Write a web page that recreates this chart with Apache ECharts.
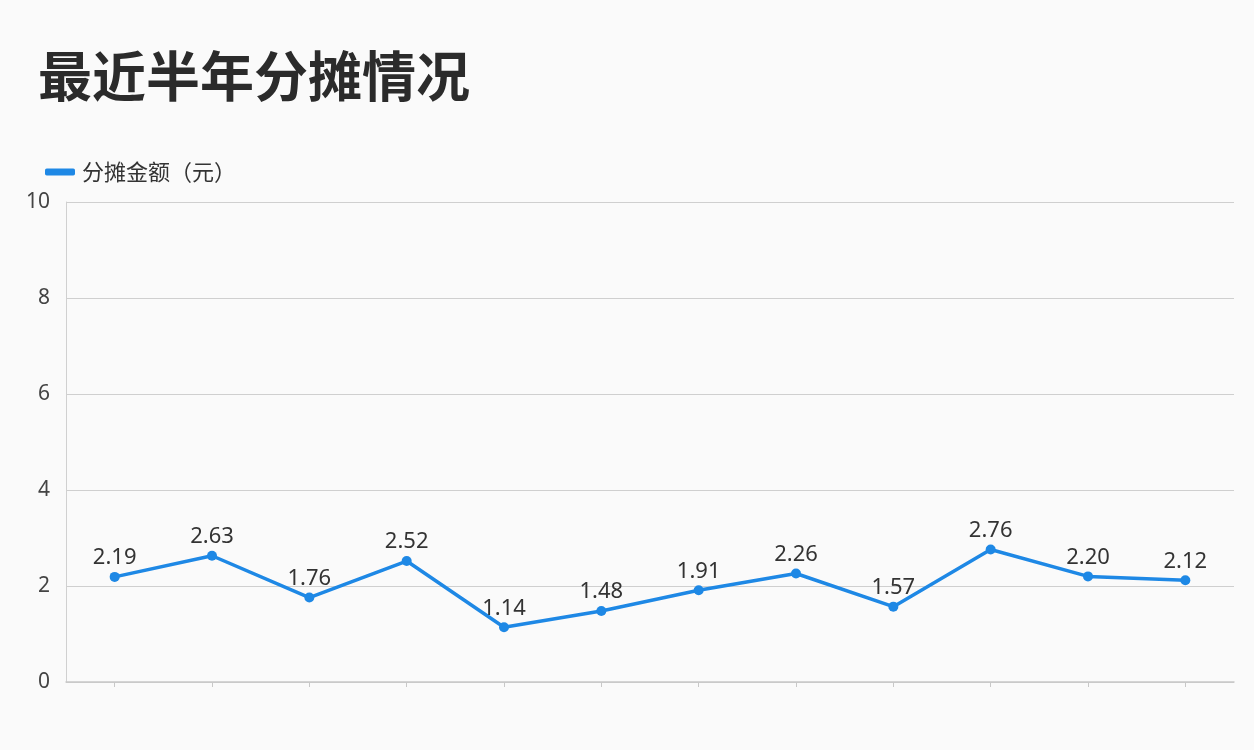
<!DOCTYPE html>
<html>
<head>
<meta charset="utf-8">
<script src="https://cdn.jsdelivr.net/npm/echarts@6/dist/echarts.min.js"></script>
<style>
html,body{margin:0;padding:0;background:#fafafa;}
#c{width:1254px;height:750px;}
</style>
</head>
<body>
<div id="c"></div>
<script>
const titleText = '最近半年分摊情况';
const seriesName = '分摊金额（元）';
const categories = ['1','2','3','4','5','6','7','8','9','10','11','12'];
const values = [2.19, 2.63, 1.76, 2.52, 1.14, 1.48, 1.91, 2.26, 1.57, 2.76, 2.20, 2.12];
const yTicks = [0, 2, 4, 6, 8, 10];

const chart = echarts.init(document.getElementById('c'));
chart.setOption({
  backgroundColor: '#fafafa',
  title: {
    text: titleText,
    left: 33, top: 44,
    textStyle: { fontSize: 54, fontWeight: 'bold', color: '#2b2b2b', fontFamily: 'Noto Sans CJK SC' }
  },
  legend: {
    left: 40, top: 156,
    itemWidth: 30, itemHeight: 7,
    itemGap: 10,
    textStyle: { fontSize: 22, color: '#333', fontFamily: 'Noto Sans CJK SC', padding: [0, 0, 0, 2] },
    data: [{ name: seriesName, icon: 'roundRect' }]
  },
  grid: { left: 66, right: 20, top: 202, bottom: 68 },
  xAxis: {
    type: 'category',
    data: categories,
    boundaryGap: true,
    axisLine: { show: true, lineStyle: { color: '#c8c8c8', width: 1.5 } },
    axisTick: { show: true, alignWithLabel: true, length: 5, lineStyle: { color: '#c8c8c8' } },
    axisLabel: { show: false }
  },
  yAxis: {
    type: 'value',
    min: yTicks[0], max: yTicks[yTicks.length - 1], interval: 2,
    axisLine: { show: true, lineStyle: { color: '#d0d0d0' } },
    axisTick: { show: false },
    axisLabel: { fontSize: 21, color: '#444', margin: 16, fontFamily: 'Noto Sans' },
    splitLine: { lineStyle: { color: '#cfcfcf', width: 1 } }
  },
  series: [{
    name: seriesName,
    type: 'line',
    data: values,
    color: '#1e88e5',
    lineStyle: { width: 3.5, color: '#1e88e5' },
    symbol: 'circle',
    symbolSize: 10,
    itemStyle: { color: '#1e88e5' },
    label: {
      show: true, position: 'top', distance: 3,
      fontSize: 22, color: '#333', fontFamily: 'Noto Sans',
      formatter: p => p.value.toFixed(2)
    },
    z: 3
  }]
});
</script>
</body>
</html>
